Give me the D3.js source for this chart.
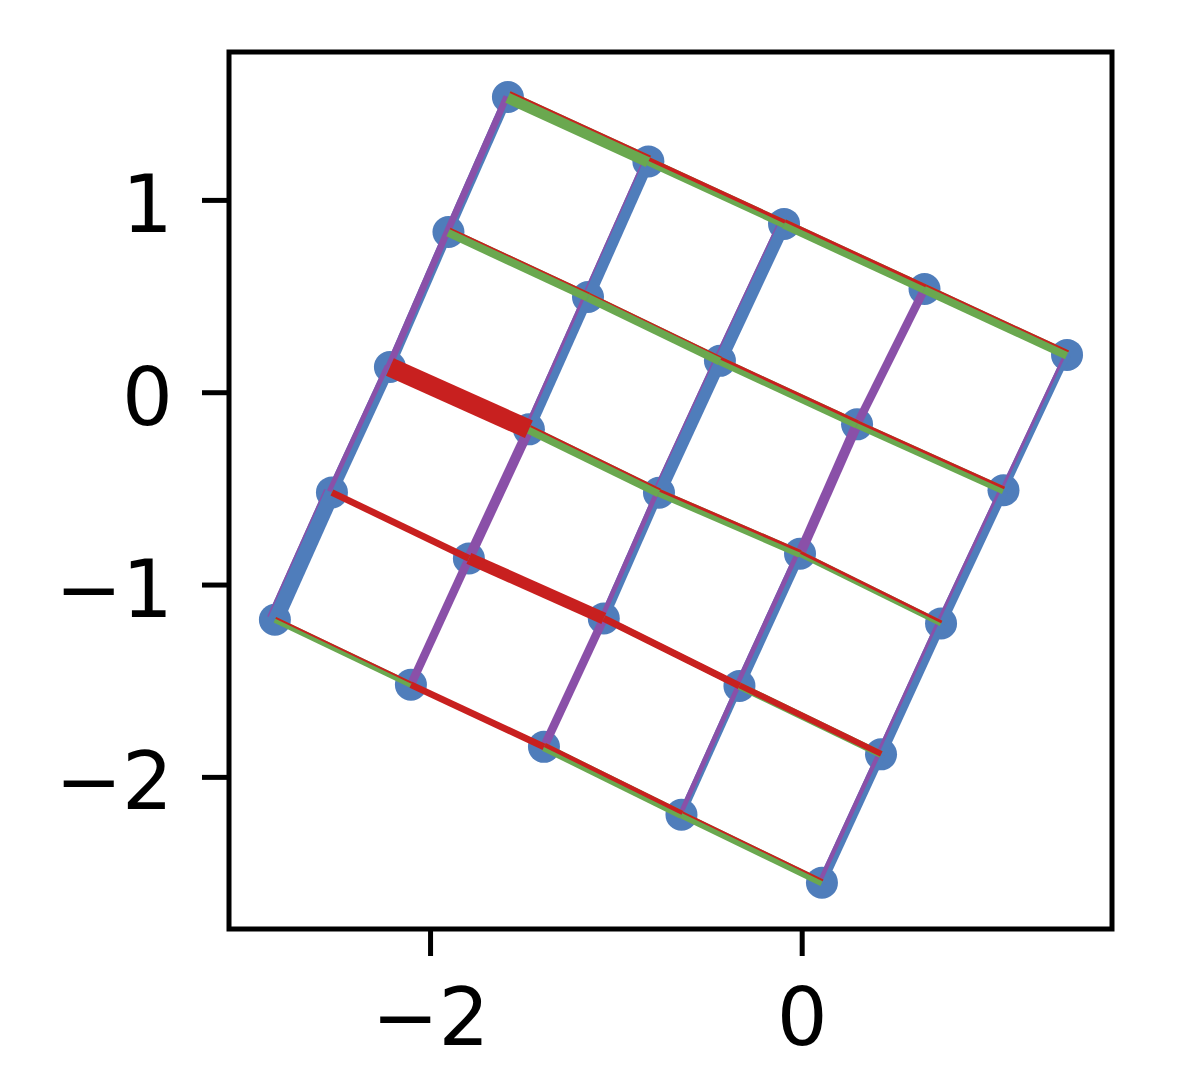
<!DOCTYPE html>
<html>
<head>
<meta charset="utf-8">
<script src="https://cdn.jsdelivr.net/npm/d3@7"></script>
<style>
  html, body { margin: 0; padding: 0; background: #fff; }
  svg { display: block; }
</style>
</head>
<body>
<svg id="chart" width="1196" height="1092"></svg>
<script>
// 5x5 grid nodes, row-major (rows A..E, columns 1..5)
const pointX = [
  -1.581, -0.825, -0.095,  0.661,  1.428,
  -1.901, -1.150, -0.440,  0.298,  1.086,
  -2.216, -1.468, -0.768, -0.009,  0.750,
  -2.528, -1.791, -1.065, -0.335,  0.427,
  -2.835, -2.103, -1.387, -0.647,  0.109
];
const pointY = [
   1.535,  1.200,  0.875,  0.537,  0.194,
   0.833,  0.495,  0.163, -0.167, -0.510,
   0.131, -0.193, -0.523, -0.840, -1.202,
  -0.521, -0.864, -1.176, -1.527, -1.883,
  -1.183, -1.521, -1.844, -2.197, -2.550
];
// row edges (row-major: row r, segment between column c and c+1) — edge weights
const redWeights = [
  0.08, 0.15, 0.12, 0.08,
  0.07, 0.06, 0.12, 0.12,
  0.80, 0.08, 0.12, 0.12,
  0.28, 0.50, 0.30, 0.25,
  0.08, 0.28, 0.18, 0.08
];
const greenWeights = [
  0.52, 0.35, 0.40, 0.40,
  0.40, 0.38, 0.35, 0.33,
  0.08, 0.38, 0.33, 0.25,
  0.15, 0.08, 0.25, 0.30,
  0.25, 0.15, 0.35, 0.30
];
// column edges (column-major: column c, segment between row r and r+1)
const blueWeights = [
  0.38, 0.38, 0.45, 0.70,
  0.50, 0.45, 0.25, 0.15,
  0.55, 0.55, 0.38, 0.22,
  0.22, 0.22, 0.42, 0.30,
  0.30, 0.42, 0.42, 0.38
];
const purpleWeights = [
  0.28, 0.28, 0.20, 0.06,
  0.06, 0.12, 0.42, 0.35,
  0.06, 0.06, 0.20, 0.35,
  0.35, 0.42, 0.20, 0.20,
  0.12, 0.12, 0.12, 0.18
];
const xTicks = [-2, 0];
const yTicks = [-2, -1, 0, 1];

const colors = { point: "#4f7dbb", blue: "#4f7dbb", purple: "#8a50a8", green: "#6aa84f", red: "#c8201f" };

const svg = d3.select("#chart");
const L = 229, R = 1112, T = 52, B = 929;
const x = d3.scaleLinear().domain([-3.082, 1.670]).range([L, R]);
const y = d3.scaleLinear().domain([-2.791, 1.769]).range([B, T]);
const w = d3.scaleLinear().domain([0, 1]).range([0, 24]);

const N = 5;
const nodes = pointX.map((v, i) => ({ x: v, y: pointY[i] }));
const node = (r, c) => nodes[r * N + c];

const rowEdges = [];
for (let r = 0; r < N; r++) for (let c = 0; c < N - 1; c++)
  rowEdges.push({ a: node(r, c), b: node(r, c + 1), red: redWeights[r * 4 + c], green: greenWeights[r * 4 + c] });
const colEdges = [];
for (let c = 0; c < N; c++) for (let r = 0; r < N - 1; r++)
  colEdges.push({ a: node(r, c), b: node(r + 1, c), blue: blueWeights[c * 4 + r], purple: purpleWeights[c * 4 + r] });

const plot = svg.append("g");

// points
plot.selectAll("circle.pt").data(nodes).join("circle")
  .attr("class", "pt")
  .attr("cx", d => x(d.x)).attr("cy", d => y(d.y)).attr("r", 16)
  .attr("fill", colors.point);

// shift (in px) perpendicular to the edge so a thinner line sits along the wider one's edge
function drawEdges(data, key, color, otherKey) {
  plot.append("g").selectAll("line").data(data).join("line")
    .each(function (d) {
      const x1 = x(d.a.x), y1 = y(d.a.y), x2 = x(d.b.x), y2 = y(d.b.y);
      let ox = 0, oy = 0;
      if (otherKey) {
        const s = Math.max(0, (w(d[otherKey]) - w(d[key])) / 2);
        const len = Math.hypot(x2 - x1, y2 - y1);
        let px = (y2 - y1) / len, py = -(x2 - x1) / len;
        if (py > 0) { px = -px; py = -py; }
        ox = px * s; oy = py * s;
      }
      d3.select(this)
        .attr("x1", x1 + ox).attr("y1", y1 + oy)
        .attr("x2", x2 + ox).attr("y2", y2 + oy);
    })
    .attr("stroke", color)
    .attr("stroke-width", d => w(d[key]))
    .attr("stroke-linecap", "butt");
}
drawEdges(colEdges, "blue", colors.blue);
drawEdges(colEdges, "purple", colors.purple, "blue");
drawEdges(rowEdges, "green", colors.green);
drawEdges(rowEdges, "red", colors.red, "green");

// axes
const font = "'DejaVu Sans', sans-serif";
const xAxis = svg.append("g").attr("transform", `translate(0,${B})`)
  .call(d3.axisBottom(x).tickValues(xTicks).tickSize(27).tickPadding(32).tickFormat(d3.format("")));
const yAxis = svg.append("g").attr("transform", `translate(${L},0)`)
  .call(d3.axisLeft(y).tickValues(yTicks).tickSize(27).tickPadding(29).tickFormat(d3.format("")));
[xAxis, yAxis].forEach(g => {
  g.select(".domain").remove();
  g.selectAll(".tick line").attr("stroke", "#000").attr("stroke-width", 5);
  g.selectAll(".tick text").attr("fill", "#000").style("font-family", font).style("font-size", "80px");
});
yAxis.selectAll(".tick text").attr("dy", "0.4em");

// frame
svg.append("rect").attr("x", L).attr("y", T).attr("width", R - L).attr("height", B - T)
  .attr("fill", "none").attr("stroke", "#000").attr("stroke-width", 5);
</script>
</body>
</html>
